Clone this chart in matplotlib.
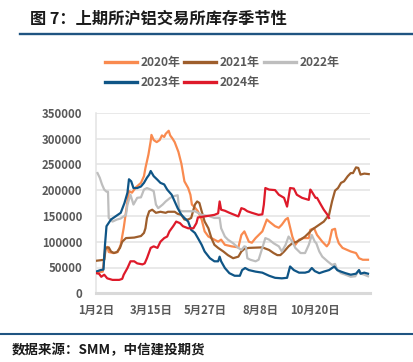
import matplotlib
matplotlib.use("Agg")
import matplotlib.pyplot as plt
from matplotlib.lines import Line2D

plt.rcParams['font.family'] = ['Noto Sans CJK SC', 'DejaVu Sans']

# ---- data (x = day index from Jan 2, y = tonnes) ----
tick_pos = [0, 73, 146, 219, 292]
tick_labels = ['1月2日', '3月15日', '5月27日', '8月8日', '10月20日']
y_ticks = [0, 50000, 100000, 150000, 200000, 250000, 300000, 350000]

d2020 = [0, 9, 12, 15, 17, 23, 29, 33, 37, 42, 44, 48, 53, 60, 64, 66, 70, 73, 74, 77, 81, 85, 88, 91, 93, 97,
         99, 102, 105, 110, 114, 118, 123, 126, 128, 132, 136, 141, 145, 150, 158, 163, 167, 172, 181, 190, 194,
         198, 204, 208, 213, 222, 228, 232, 239, 244, 248, 253, 256, 262, 266, 271, 277, 284, 286, 291, 295, 302,
         308, 311, 315, 319, 321, 324, 329, 340, 347, 351, 356, 363]
v2020 = [40000, 42000, 85000, 90000, 80000, 78000, 80000, 94000, 127000, 178000, 198000, 195000, 205000, 214000,
         227000, 243000, 269000, 295000, 307000, 297000, 293000, 297000, 306000, 303000, 309000, 315000, 306000,
         300000, 293000, 274000, 251000, 217000, 204000, 191000, 172000, 166000, 159000, 143000, 120000, 110000,
         104000, 100000, 104000, 94000, 91000, 89000, 113000, 120000, 100000, 98000, 107000, 120000, 143000,
         138000, 130000, 127000, 133000, 143000, 146000, 110000, 94000, 104000, 107000, 107000, 123000, 126000,
         113000, 100000, 91000, 97000, 123000, 125000, 110000, 97000, 88000, 81000, 78000, 68000, 65000, 65000]

d2021 = [0, 11, 13, 17, 20, 24, 28, 32, 35, 40, 51, 60, 64, 66, 68, 71, 75, 80, 86, 93, 96, 105, 109, 114, 118,
         123, 127, 132, 135, 138, 141, 145, 150, 154, 158, 163, 170, 176, 183, 190, 194, 198, 204, 222, 231, 237,
         242, 246, 251, 257, 262, 268, 273, 279, 284, 288, 293, 298, 304, 311, 315, 319, 323, 327, 331, 336, 340,
         343, 347, 350, 353, 358, 364]
v2021 = [63000, 65000, 88000, 89000, 81000, 78000, 80000, 88000, 100000, 107000, 108000, 111000, 117000, 126000,
         146000, 159000, 162000, 156000, 158000, 156000, 158000, 158000, 154000, 152000, 143000, 143000, 146000,
         172000, 178000, 175000, 159000, 139000, 126000, 107000, 94000, 88000, 81000, 74000, 68000, 71000, 81000,
         86000, 88000, 89000, 84000, 78000, 74000, 74000, 81000, 91000, 97000, 100000, 104000, 110000, 117000,
         123000, 128000, 133000, 139000, 152000, 178000, 199000, 204000, 214000, 217000, 227000, 233000, 233000,
         244000, 243000, 230000, 232000, 231000]

d2022 = [2, 5, 8, 11, 14, 16, 17, 22, 28, 33, 40, 42, 46, 50, 55, 60, 64, 68, 73, 77, 80, 83, 89, 93, 99, 103,
         109, 111, 114, 132, 141, 150, 158, 165, 167, 172, 176, 183, 190, 194, 198, 200, 202, 206, 213, 217, 222,
         226, 231, 237, 244, 248, 253, 257, 262, 266, 273, 279, 284, 288, 292, 294, 298, 302, 309, 315, 319, 322,
         327, 333, 340, 346, 351, 354, 358, 363]
v2022 = [233000, 224000, 211000, 201000, 197000, 197000, 146000, 139000, 143000, 145000, 152000, 172000, 191000,
         172000, 185000, 186000, 201000, 204000, 201000, 198000, 172000, 165000, 172000, 178000, 185000, 188000,
         190000, 162000, 159000, 159000, 152000, 150000, 146000, 146000, 126000, 110000, 104000, 97000, 88000,
         84000, 91000, 90000, 68000, 65000, 62000, 65000, 88000, 107000, 104000, 97000, 91000, 81000, 94000,
         110000, 100000, 88000, 78000, 78000, 94000, 113000, 100000, 97000, 81000, 71000, 62000, 55000, 57000,
         45000, 39000, 36000, 32000, 33000, 45000, 38000, 36000, 33000]

d2023 = [0, 6, 10, 12, 14, 20, 26, 33, 38, 42, 44, 47, 50, 55, 60, 64, 68, 71, 73, 77, 82, 86, 91, 95, 101, 105,
         109, 114, 118, 123, 127, 132, 136, 141, 145, 152, 158, 163, 165, 167, 172, 178, 185, 192, 195, 199, 204,
         213, 222, 231, 239, 248, 255, 259, 264, 271, 279, 284, 288, 292, 298, 304, 311, 318, 322, 327, 333, 340,
         347, 351, 353, 358, 363]
v2023 = [42000, 45000, 46000, 94000, 130000, 143000, 149000, 156000, 175000, 195000, 221000, 217000, 204000,
         204000, 207000, 214000, 224000, 230000, 237000, 227000, 220000, 214000, 211000, 201000, 191000, 178000,
         165000, 152000, 146000, 139000, 123000, 117000, 107000, 94000, 81000, 68000, 62000, 62000, 71000, 62000,
         49000, 39000, 34000, 34000, 45000, 49000, 45000, 42000, 40000, 34000, 30000, 29000, 30000, 52000, 45000,
         40000, 40000, 42000, 49000, 43000, 39000, 42000, 45000, 52000, 45000, 42000, 39000, 36000, 38000, 45000,
         38000, 40000, 38000]

d2024 = [0, 4, 7, 11, 15, 22, 31, 35, 37, 42, 46, 51, 55, 62, 65, 68, 73, 77, 82, 86, 91, 95, 98, 103, 107, 112,
         116, 123, 130, 134, 136, 145, 158, 163, 165, 167, 172, 178, 190, 194, 198, 202, 208, 217, 222, 224, 226,
         231, 239, 244, 251, 255, 259, 264, 268, 275, 284, 286, 288, 293, 295, 300, 304, 309, 311]
v2024 = [39000, 38000, 32000, 36000, 29000, 26000, 26000, 28000, 36000, 49000, 62000, 62000, 58000, 56000, 58000,
         68000, 88000, 91000, 88000, 100000, 107000, 110000, 120000, 130000, 139000, 136000, 130000, 126000,
         126000, 136000, 147000, 149000, 152000, 155000, 178000, 162000, 160000, 156000, 149000, 165000, 163000,
         159000, 156000, 152000, 153000, 172000, 204000, 201000, 200000, 191000, 185000, 168000, 204000, 203000,
         191000, 185000, 181000, 201000, 197000, 185000, 185000, 172000, 162000, 152000, 146000]

series = [
    ('2020年', d2020, v2020, '#F98A4F'),
    ('2021年', d2021, v2021, '#9E5E2C'),
    ('2022年', d2022, v2022, '#BEBEBE'),
    ('2023年', d2023, v2023, '#0F5586'),
    ('2024年', d2024, v2024, '#DE1A2A'),
]

W, H = 413, 362
fig = plt.figure(figsize=(W / 100, H / 100), dpi=100)
fig.patch.set_facecolor('white')

ax = fig.add_axes([96 / W, 1 - 293.3 / H, (369.5 - 96) / W, (293.3 - 112.7) / H])

handles = {}
for name, d, v, c in series:
    ln, = ax.plot(d, v, color=c, lw=1.6, solid_joinstyle='round', label=name, zorder=3)
    handles[name] = ln

ax.set_xlim(0, 365)
ax.set_ylim(0, 350000)
ax.set_yticks(y_ticks)
ax.set_yticklabels([str(t) for t in y_ticks])
ax.set_xticks(tick_pos)
ax.set_xticklabels(tick_labels)
ax.grid(axis='y', color='#E3E3E3', lw=1.1, zorder=0)
ax.set_axisbelow(True)
for s in ['top', 'right']:
    ax.spines[s].set_visible(False)
ax.spines['left'].set_color('#E3E3E3')
ax.spines['left'].set_linewidth(1.1)
ax.spines['bottom'].set_color('#D9D9D9')
ax.spines['bottom'].set_linewidth(2.2)
ax.tick_params(axis='both', length=0, labelsize=8.2, labelcolor='#595959')
ax.tick_params(axis='y', pad=10)
ax.tick_params(axis='x', pad=8)
for lab in ax.get_xticklabels() + ax.get_yticklabels():
    lab.set_fontweight('bold')

order = ['2020年', '2023年', '2021年', '2024年', '2022年']
leg = fig.legend([handles[k] for k in order], order, ncol=3, loc='center',
                 bbox_to_anchor=(222 / W, 1 - 72.5 / H), frameon=False,
                 handlelength=2.7, handletextpad=0.3, columnspacing=0.3,
                 labelspacing=0.55, prop={'size': 8.6, 'weight': 'bold'})
for t in leg.get_texts():
    t.set_color('#595959')
for l in leg.get_lines():
    l.set_linewidth(2.4)

# title and decorative lines
fig.text(30 / W, 1 - 18 / H, '图 7：上期所沪铝交易所库存季节性', fontsize=11.7,
         fontweight='bold', color='#1a1a1a', va='center', ha='left')
fig.add_artist(Line2D([20 / W, 1], [1 - 33.5 / H] * 2, color='#1F5481', lw=1.7))
fig.add_artist(Line2D([0, 1], [1 - 334 / H] * 2, color='#1F5481', lw=1.5))
fig.text(12 / W, 1 - 350 / H, '数据来源：SMM，中信建投期货', fontsize=9.7,
         fontweight='bold', fontstyle='italic', color='#1a1a1a', va='center', ha='left')

fig.savefig('out.png', dpi=100, facecolor='white')
